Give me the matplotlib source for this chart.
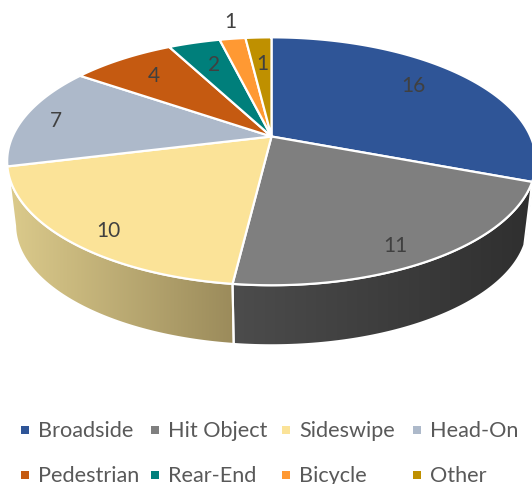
import numpy as np
import matplotlib
matplotlib.use('Agg')
import matplotlib.pyplot as plt
from matplotlib.colors import LinearSegmentedColormap
from matplotlib.patches import Polygon, Rectangle

plt.rcParams['font.family'] = ['Lato', 'DejaVu Sans']

# Data
categories = ['Broadside', 'Hit Object', 'Sideswipe', 'Head-On',
              'Pedestrian', 'Rear-End', 'Bicycle', 'Other']
values = [16, 11, 10, 7, 4, 2, 1, 1]

# Style
colors = ['#2F5597', '#7F7F7F', '#FBE398', '#ADB9CA',
          '#C55A11', '#007F7B', '#FF9933', '#BF9000']
label_xy = [(413, 86), (395, 246), (108, 231), (56, 121),
            (154, 76), (214, 65), (262, 64), (230, 22)]
legend_x = [25, 155, 286, 417]
legend_y = [431, 476]

# Pie projection (pixels), a little perspective makes the front bigger
CX, CY = 271.5, 137.5
RX, RY = 259, 119
PERSP = 0.2
BOTTOM_CY = 202
BOTTOM_SCALE = 0.97


def top_pts(deg):
    t = np.radians(deg)
    d = 1 + PERSP * np.cos(t)
    return np.column_stack([CX + RX * np.sin(t) / d, CY - RY * np.cos(t) / d])


def bottom_pts(deg):
    t = np.radians(deg)
    d = 1 + PERSP * np.cos(t)
    return np.column_stack([CX + BOTTOM_SCALE * RX * np.sin(t) / d,
                            BOTTOM_CY - BOTTOM_SCALE * RY * np.cos(t) / d])


def wall_poly(a0, a1):
    deg = np.linspace(a0, a1, 80)
    return np.vstack([top_pts(deg), bottom_pts(deg)[::-1]])


fig = plt.figure(figsize=(5.32, 4.85), dpi=100)
ax = fig.add_axes([0, 0, 1, 1])

edges = np.cumsum([0] + values) / sum(values) * 360

# side walls
blue_wall = Polygon(wall_poly(101, edges[1]), closed=True, facecolor=colors[0],
                    edgecolor='white', linewidth=1.0, zorder=1)
ax.add_patch(blue_wall)

walls = [(edges[1], edges[2], '#4C4C4C', '#2F2F2F'),
         (edges[2], 258, '#9B8B5B', '#DCCB8C')]
for a0, a1, c0, c1 in walls:
    poly = wall_poly(a0, a1)
    patch = Polygon(poly, closed=True, facecolor='none', edgecolor='white',
                    linewidth=1.5, zorder=3)
    ax.add_patch(patch)
    x0, x1 = poly[:, 0].min(), poly[:, 0].max()
    y0, y1 = poly[:, 1].min(), poly[:, 1].max()
    if a0 > 180:
        c0, c1 = c1, c0
    cmap = LinearSegmentedColormap.from_list('wall', [c0, c1])
    im = ax.imshow(np.linspace(0, 1, 256).reshape(1, -1), cmap=cmap, aspect='auto',
                   extent=(x0, x1, y1, y0), zorder=2)
    im.set_clip_path(Polygon(poly, closed=True, transform=ax.transData))

# top face
for i, c in enumerate(colors):
    deg = np.linspace(edges[i], edges[i + 1], 100)
    pts = np.vstack([[CX, CY], top_pts(deg)])
    ax.add_patch(Polygon(pts, closed=True, facecolor=c, edgecolor='white',
                         linewidth=1.6, joinstyle='round', zorder=4))

# data labels
for v, (x, y) in zip(values, label_xy):
    ax.text(x, y, str(v), ha='center', va='center', fontsize=15,
            color='#404040', zorder=5)

# legend
for i, (name, c) in enumerate(zip(categories, colors)):
    x = legend_x[i % 4]
    y = legend_y[i // 4]
    ax.add_patch(Rectangle((x - 4, y - 4), 8, 8, facecolor=c, edgecolor='none', zorder=5))
    ax.text(x + 13, y, name, ha='left', va='center', fontsize=15.6,
            color='#595959', zorder=5)

ax.set_xlim(0, 532)
ax.set_ylim(485, 0)
ax.axis('off')

fig.savefig('out.png', dpi=100, facecolor='white')
